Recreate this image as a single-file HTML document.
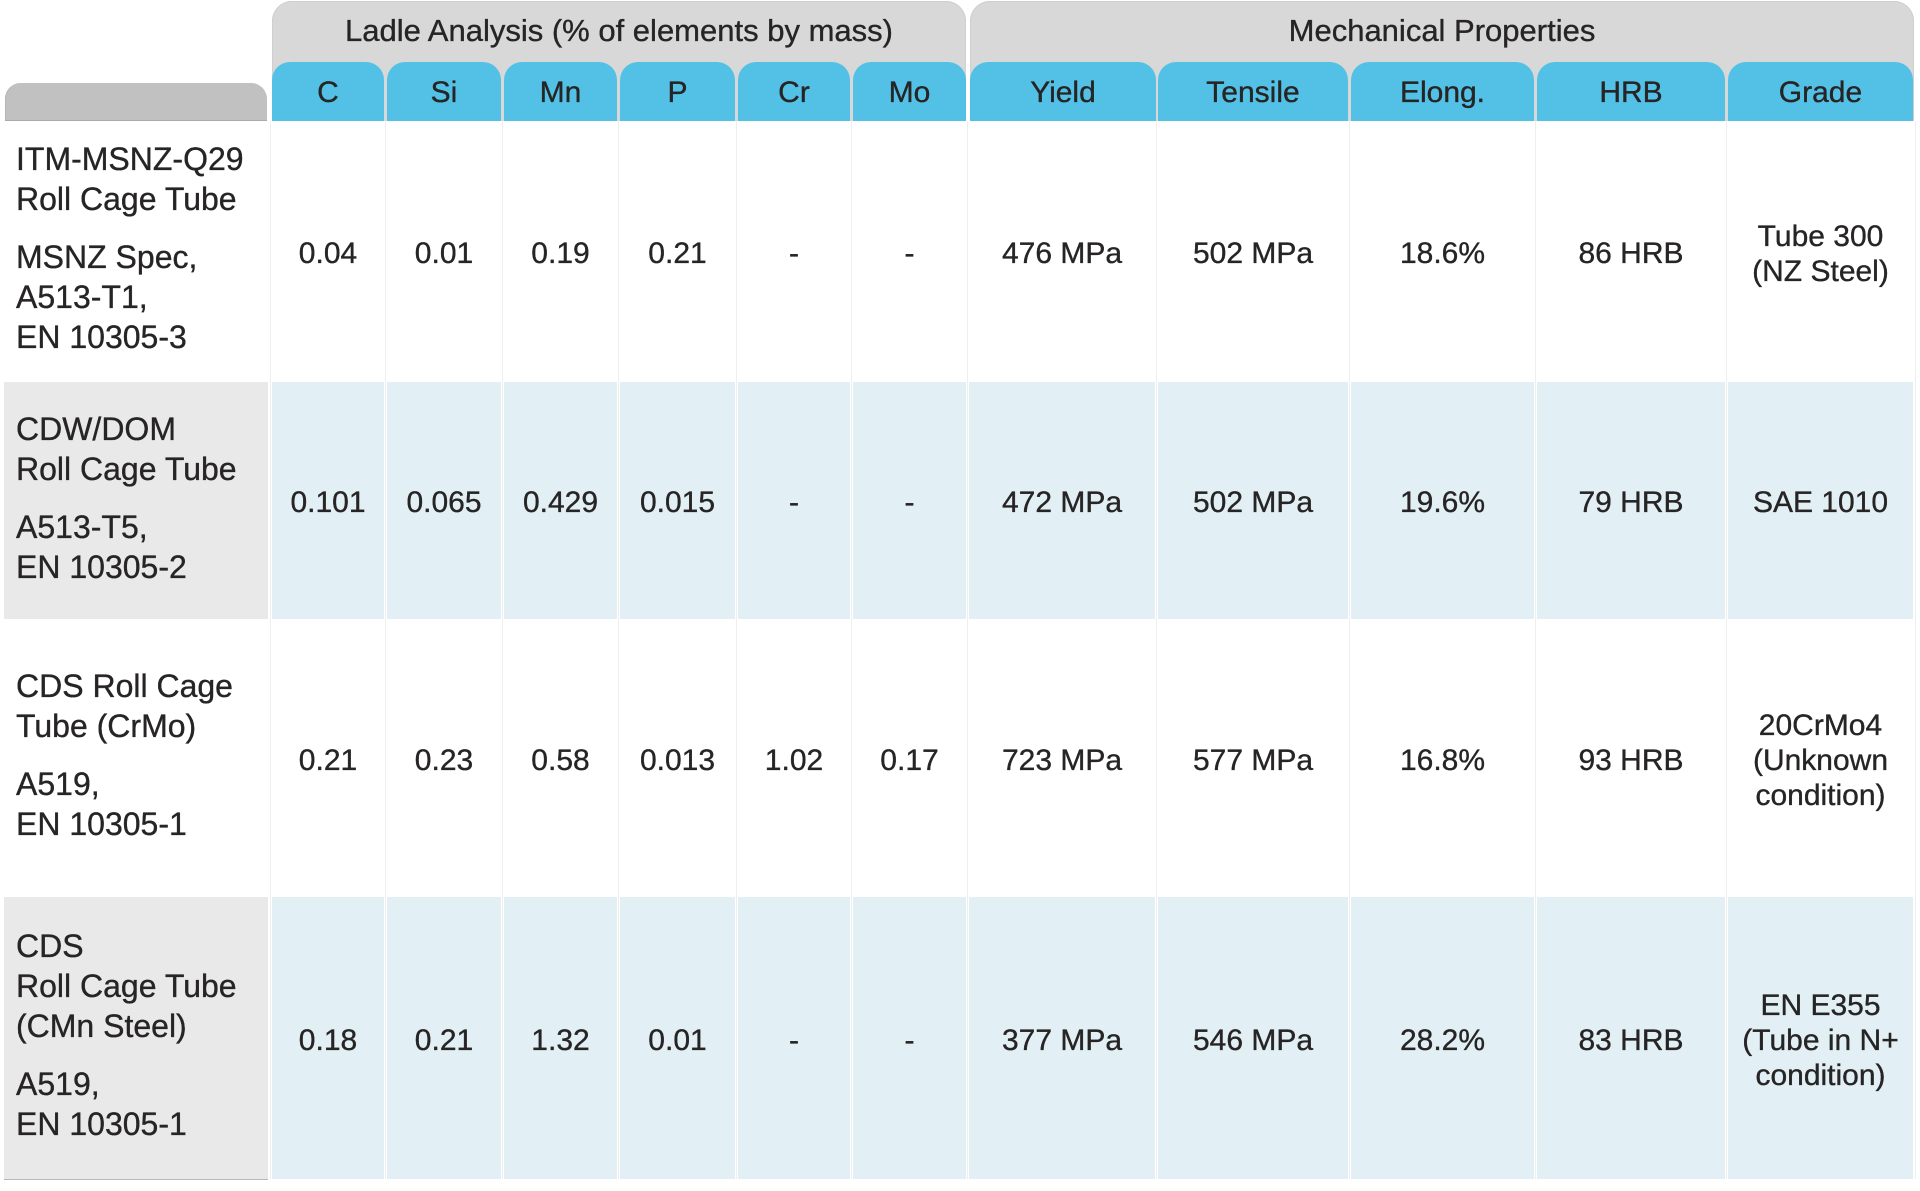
<!DOCTYPE html>
<html>
<head>
<meta charset="utf-8">
<style>
  html, body { margin:0; padding:0; }
  body {
    width:1920px; height:1191px; position:relative; overflow:hidden;
    background:#ffffff;
    font-family:"Liberation Sans", Arial, Helvetica, sans-serif;
    color:#262424;
    -webkit-text-stroke:0.35px #262424;
  }
  .abs { position:absolute; }
  .grp {
    position:absolute; top:1px; height:120px;
    background:#d8d8d8;
    border-radius:20px 20px 0 0;
    box-shadow: inset 0 1px 0 #cfcfcf, inset 1px 0 0 #cfcfcf, inset -1px 0 0 #cfcfcf;
    font-size:31px; line-height:40px; text-align:center;
    box-sizing:border-box; padding-top:10px;
  }
  .lefthead {
    position:absolute; left:5px; top:83px; width:262px; height:38px;
    background:#c1c1c1; border-radius:16px 16px 0 0;
    box-shadow: inset 0 -1px 0 #aaaaaa, inset 1px 0 0 #b5b5b5;
  }
  .bh {
    position:absolute; top:62px; height:59px; box-sizing:border-box;
    background:#53c1e6; border-radius:18px 18px 0 0;
    font-size:30px; line-height:56px; padding-top:3px; text-align:center;
  }
  .row { position:absolute; left:0; width:1920px; }
  .cell {
    position:absolute; top:0; bottom:0;
    display:flex; align-items:center; justify-content:center;
    text-align:center; font-size:30px; line-height:35px;
    box-sizing:border-box; padding-top:4px;
  }
  .shade .cell { background:#e2f0f5; }
  .shade .k0 { background:#e9e9e9; }
  .k0 { left:4px; width:264px; }
  .k1 { left:272px; width:112px; }
  .k2 { left:387px; width:114px; }
  .k3 { left:504px; width:113px; }
  .k4 { left:620px; width:115px; }
  .k5 { left:738px; width:112px; }
  .k6 { left:853px; width:113px; }
  .k7 { left:969px; width:186px; }
  .k8 { left:1158px; width:190px; }
  .k9 { left:1351px; width:183px; }
  .k10 { left:1537px; width:188px; }
  .k11 { left:1728px; width:185px; }
  .lt {
    position:absolute; left:16px; font-size:32px; line-height:40px;
    white-space:nowrap;
  }
  .lt p { margin:0; }
  .lt p + p { margin-top:18px; }
  .vl { position:absolute; top:121px; height:1058px; width:1px; background:#efefef; }
</style>
</head>
<body>

<!-- vertical faint separators -->
<div class="vl" style="left:270px"></div>
<div class="vl" style="left:385px"></div>
<div class="vl" style="left:502px"></div>
<div class="vl" style="left:618px"></div>
<div class="vl" style="left:736px"></div>
<div class="vl" style="left:851px"></div>
<div class="vl" style="left:967px"></div>
<div class="vl" style="left:1156px"></div>
<div class="vl" style="left:1349px"></div>
<div class="vl" style="left:1535px"></div>
<div class="vl" style="left:1726px"></div>
<div class="vl" style="left:1915px"></div>

<!-- group headers -->
<div class="grp" style="left:272px; width:694px;">Ladle Analysis (% of elements by mass)</div>
<div class="grp" style="left:970px; width:944px;">Mechanical Properties</div>

<div class="lefthead"></div>

<!-- blue column headers -->
<div class="bh k1">C</div>
<div class="bh k2">Si</div>
<div class="bh k3">Mn</div>
<div class="bh k4">P</div>
<div class="bh k5">Cr</div>
<div class="bh k6">Mo</div>
<div class="bh" style="left:970px; width:186px;">Yield</div>
<div class="bh k8">Tensile</div>
<div class="bh k9">Elong.</div>
<div class="bh k10">HRB</div>
<div class="bh k11">Grade</div>

<!-- Row 1 -->
<div class="row" style="top:121px; height:261px;">
  <div class="cell k1">0.04</div>
  <div class="cell k2">0.01</div>
  <div class="cell k3">0.19</div>
  <div class="cell k4">0.21</div>
  <div class="cell k5">-</div>
  <div class="cell k6">-</div>
  <div class="cell k7">476 MPa</div>
  <div class="cell k8">502 MPa</div>
  <div class="cell k9">18.6%</div>
  <div class="cell k10">86 HRB</div>
  <div class="cell k11">Tube 300<br>(NZ Steel)</div>
</div>

<!-- Row 2 -->
<div class="row shade" style="top:382px; height:237px;">
  <div class="cell k0"></div>
  <div class="cell k1">0.101</div>
  <div class="cell k2">0.065</div>
  <div class="cell k3">0.429</div>
  <div class="cell k4">0.015</div>
  <div class="cell k5">-</div>
  <div class="cell k6">-</div>
  <div class="cell k7">472 MPa</div>
  <div class="cell k8">502 MPa</div>
  <div class="cell k9">19.6%</div>
  <div class="cell k10">79 HRB</div>
  <div class="cell k11">SAE 1010</div>
</div>

<!-- Row 3 -->
<div class="row" style="top:619px; height:278px;">
  <div class="cell k1">0.21</div>
  <div class="cell k2">0.23</div>
  <div class="cell k3">0.58</div>
  <div class="cell k4">0.013</div>
  <div class="cell k5">1.02</div>
  <div class="cell k6">0.17</div>
  <div class="cell k7">723 MPa</div>
  <div class="cell k8">577 MPa</div>
  <div class="cell k9">16.8%</div>
  <div class="cell k10">93 HRB</div>
  <div class="cell k11">20CrMo4<br>(Unknown<br>condition)</div>
</div>

<!-- Row 4 -->
<div class="row shade" style="top:897px; height:282px;">
  <div class="cell k0"></div>
  <div class="cell k1">0.18</div>
  <div class="cell k2">0.21</div>
  <div class="cell k3">1.32</div>
  <div class="cell k4">0.01</div>
  <div class="cell k5">-</div>
  <div class="cell k6">-</div>
  <div class="cell k7">377 MPa</div>
  <div class="cell k8">546 MPa</div>
  <div class="cell k9">28.2%</div>
  <div class="cell k10">83 HRB</div>
  <div class="cell k11">EN E355<br>(Tube in N+<br>condition)</div>
</div>

<!-- bottom line under left column -->
<div class="abs" style="left:4px; top:1179px; width:264px; height:1px; background:#b8b8b8;"></div>

<!-- left column texts -->
<div class="lt" style="top:139px;">
  <p>ITM-MSNZ-Q29<br>Roll Cage Tube</p>
  <p>MSNZ Spec,<br>A513-T1,<br>EN 10305-3</p>
</div>
<div class="lt" style="top:409px;">
  <p>CDW/DOM<br>Roll Cage Tube</p>
  <p>A513-T5,<br>EN 10305-2</p>
</div>
<div class="lt" style="top:666px;">
  <p>CDS Roll Cage<br>Tube (CrMo)</p>
  <p>A519,<br>EN 10305-1</p>
</div>
<div class="lt" style="top:926px;">
  <p>CDS<br>Roll Cage Tube<br>(CMn Steel)</p>
  <p>A519,<br>EN 10305-1</p>
</div>

</body>
</html>
